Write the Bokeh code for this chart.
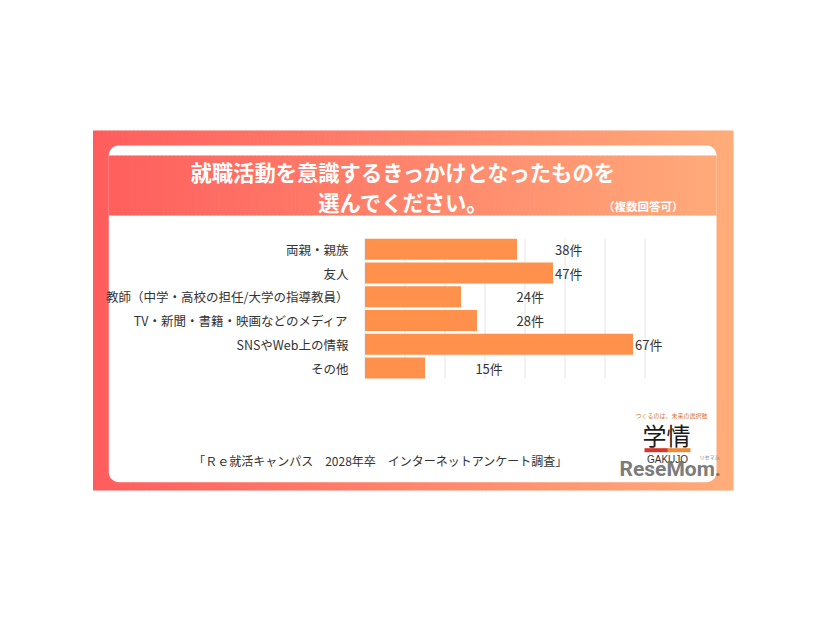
import math
from bokeh.plotting import figure
from bokeh.models import Range1d, ColumnDataSource
from bokeh.core.properties import value
from bokeh.embed import file_html
from bokeh.resources import INLINE

# ---------------- data ----------------
categories = [
    "両親・親族",
    "友人",
    "教師（中学・高校の担任/大学の指導教員）",
    "TV・新聞・書籍・映画などのメディア",
    "SNSやWeb上の情報",
    "その他",
]
counts = [38, 47, 24, 28, 67, 15]
value_labels = ["38件", "47件", "24件", "28件", "67件", "15件"]
label_at = [47.5, 47.5, 37.9, 37.9, 67.5, 27.6]   # where each count label sits (value units)
grid_ticks = [0, 10, 20, 30, 40, 50, 60, 70]
title_lines = ["就職活動を意識するきっかけとなったものを", "選んでください。"]
subtitle = "（複数回答可）"
source_note = "「Ｒｅ就活キャンパス　2028年卒　インターネットアンケート調査」"

# ---------------- figure ----------------
W, H = 810, 600
OFF = 8  # decoration coordinates below are given relative to an 8px inset
JP = value("Noto Sans CJK JP")

p = figure(
    width=W, height=H,
    x_range=Range1d(-OFF, W - OFF), y_range=Range1d(H - OFF, -OFF),
    x_axis_location=None, y_axis_location=None,
    output_backend="svg", toolbar_location=None,
    min_border=0, outline_line_color=None,
    background_fill_color="white", border_fill_color="white",
)
p.grid.visible = False
zero_px, px_per_unit = 364.5, 4.0
p.extra_x_ranges = {"val": Range1d(-zero_px / px_per_unit, (W - zero_px) / px_per_unit)}
row_pitch, row0 = 23.74, 248.8
p.extra_y_ranges = {"row": Range1d((H - row0) / row_pitch, -row0 / row_pitch)}


def grad(x, x0=84.5, x1=725.0):
    t = min(max((x - x0) / (x1 - x0), 0.0), 1.0)
    a = (255, 93, 93)
    b = (255, 172, 122)
    c = [round(a[i] + (b[i] - a[i]) * t) for i in range(3)]
    return "#%02x%02x%02x" % tuple(c)


def strips(xl, xr, yt, yb, n):
    step = (xr - xl) / n
    L, R, C = [], [], []
    for i in range(n):
        l = xl + i * step
        L.append(l)
        R.append(min(l + step + 0.7, xr))
        C.append(grad(l + step / 2))
    return dict(left=L, right=R, top=[yt] * n, bottom=[yb] * n, color=C)


# outer gradient panel
p.quad(source=ColumnDataSource(strips(84.5, 725.0, 122.0, 482.0, 160)),
       left="left", right="right", top="top", bottom="bottom",
       fill_color="color", line_color=None)

# white rounded card
cx0, cx1, cy0, cy1, r = 100.3, 708.0, 137.0, 473.7, 10.0
xs, ys = [], []
for (ccx, ccy, a0) in [(cx1 - r, cy0 + r, -90), (cx1 - r, cy1 - r, 0),
                       (cx0 + r, cy1 - r, 90), (cx0 + r, cy0 + r, 180)]:
    for k in range(10):
        ang = math.radians(a0 + 90 * k / 9)
        xs.append(ccx + r * math.cos(ang))
        ys.append(ccy + r * math.sin(ang))
p.patch(xs, ys, fill_color="white", line_color=None)

# title band
p.quad(source=ColumnDataSource(strips(100.3, 708.0, 147.0, 207.0, 150)),
       left="left", right="right", top="top", bottom="bottom",
       fill_color="color", line_color=None)

p.text(x=[395, 395], y=[163, 193], text=title_lines,
       text_font=JP, text_font_style="bold", text_font_size="21.3px",
       text_color="white", text_align="center", text_baseline="middle")
p.text(x=[675], y=[197], text=[subtitle],
       text_font=JP, text_font_style="bold", text_font_size="11.5px",
       text_color="white", text_align="right", text_baseline="middle")

# ---------------- bars ----------------
bar_h = 0.885
rows = list(range(len(categories)))
n = len(grid_ticks)
p.segment(x0=grid_ticks, x1=grid_ticks,
          y0=[rows[0] - bar_h / 2] * n, y1=[rows[-1] + bar_h / 2] * n,
          line_color="#e4e4e4", line_width=1,
          x_range_name="val", y_range_name="row")

src = ColumnDataSource(dict(row=rows, cat=categories, count=counts,
                            lbl=value_labels, lx=label_at,
                            lab_x=[340] * len(categories)))
p.hbar(y="row", left=0, right="count", height=bar_h, source=src,
       fill_color="#ff914d", line_color=None,
       x_range_name="val", y_range_name="row")

p.text(x="lx", y="row", text="lbl", source=src,
       text_font=JP, text_font_size="13px", text_color="#333333",
       text_align="left", text_baseline="middle",
       x_range_name="val", y_range_name="row")

# category labels (left of bars)
p.text(x="lab_x", y="row", text="cat", source=src,
       text_font=JP, text_font_size="12.5px", text_color="#333333",
       text_align="right", text_baseline="middle",
       y_range_name="row")

# source note
p.text(x=[372], y=[452], text=[source_note],
       text_font=JP, text_font_size="12px", text_color="#333333",
       text_align="center", text_baseline="middle")

# ---------------- logos ----------------
p.text(x=[663], y=[407], text=["つくるのは、未来の選択肢"],
       text_font=JP, text_font_size="6px", text_color="#e0752f",
       text_align="center", text_baseline="middle")
p.text(x=[658], y=[426], text=["学情"],
       text_font=JP, text_font_size="24px",
       text_color="#1a1a1a", text_align="center", text_baseline="middle")
p.quad(left=[636, 659], right=[659.5, 682], top=[439.7, 439.7],
       bottom=[443.7, 443.7], fill_color=["#d8342b", "#f08a36"],
       line_color=None)
p.text(x=[659], y=[451], text=["GAKUJO"],
       text_font=value("Liberation Sans"), text_font_size="10px",
       text_color="#333333", text_align="center", text_baseline="middle")
p.text(x=[611], y=[460], text=["ReseMom."],
       text_font=value("Roboto"), text_font_style="bold",
       text_font_size="21px", text_color="#6a6a6a", text_alpha=0.9,
       text_align="left", text_baseline="middle")
p.text(x=[701], y=[448], text=["リセマム"],
       text_font=JP, text_font_size="5px", text_color="#777777",
       text_align="center", text_baseline="middle")

open("out.html", "w").write(file_html(p, INLINE))
